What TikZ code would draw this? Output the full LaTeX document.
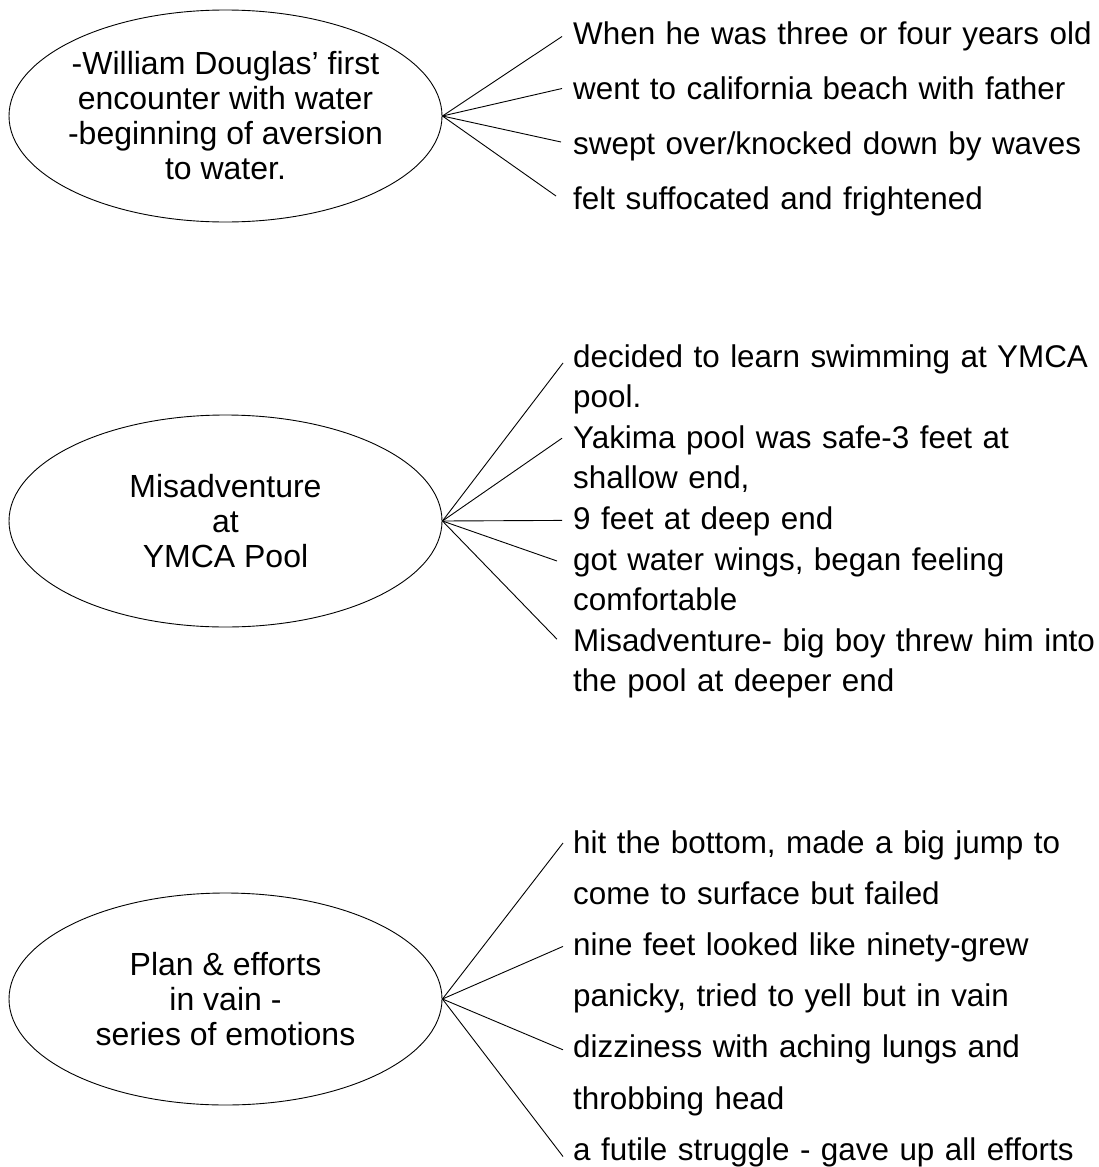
\documentclass[tikz,border=0pt]{standalone}
\usepackage{fontspec}
\setmainfont{Liberation Sans}
\usepackage{tikz}
\usetikzlibrary{shapes.geometric}

\begin{document}
\begin{tikzpicture}[x=1pt,y=-1pt,
    bubble/.style={draw, ellipse, line width=0.9pt, minimum width=433pt, minimum height=212pt,
      inner xsep=-10pt, align=center, font=\fontsize{32}{35}\selectfont},
    item/.style={anchor=base west, text width=540pt, align=left},
    spoke/.style={line width=0.9pt}]
    \tikzstyle{every node}+=[inner sep=0pt]
    \useasboundingbox (0,0) rectangle (1099,1167);
    \node[bubble] (b1) at (225.5,116) {-William Douglas’ first\\encounter with water\\-beginning of aversion\\to water.};
    \node[bubble] (b2) at (225.5,521) {Misadventure\\at\\YMCA Pool};
    \node[bubble] (b3) at (225.5,999) {Plan \& efforts\\in vain -\\series of emotions};
    \node[item, font=\fontsize{31.4}{54.8}\selectfont] (t1a) at (573,44.5) {\makebox[514pt][s]{When he was three or four years old}};
    \node[item, font=\fontsize{31.4}{54.8}\selectfont] (t1b) at (573,99.5) {\makebox[514pt][s]{went to california beach with father}};
    \node[item, font=\fontsize{31.4}{54.8}\selectfont] (t1c) at (573,154) {\makebox[514pt][s]{swept over/knocked down by waves}};
    \node[item, font=\fontsize{31.4}{54.8}\selectfont] (t1d) at (573,209) {felt suffocated and frightened};
    \node[item, font=\fontsize{31.4}{40.6}\selectfont] (t2a) at (573,367) {decided to learn swimming at YMCA\\pool.};
    \node[item, font=\fontsize{31.4}{40.6}\selectfont] (t2b) at (573,448.2) {Yakima pool was safe-3 feet at\\shallow end,};
    \node[item, font=\fontsize{31.4}{40.6}\selectfont] (t2c) at (573,529.4) {9 feet at deep end};
    \node[item, font=\fontsize{31.4}{40.6}\selectfont] (t2d) at (573,570) {got water wings, began feeling\\comfortable};
    \node[item, font=\fontsize{31.4}{40.6}\selectfont] (t2e) at (573,651.2) {Misadventure- big boy threw him into\\the pool at deeper end};
    \node[item, font=\fontsize{31.4}{51.2}\selectfont] (t3a) at (573,853) {hit the bottom, made a big jump to\\come to surface but failed};
    \node[item, font=\fontsize{31.4}{51.2}\selectfont] (t3b) at (573,955.4) {nine feet looked like ninety-grew\\panicky, tried to yell but in vain};
    \node[item, font=\fontsize{31.4}{51.2}\selectfont] (t3c) at (573,1057.8) {dizziness with aching lungs and\\throbbing head};
    \node[item, font=\fontsize{31.4}{51.2}\selectfont] (t3d) at (573,1160.5) {a futile struggle - gave up all efforts};
    \draw[spoke] (b1.east) -- ([xshift=-11pt,yshift=8pt]t1a.base west);
    \draw[spoke] (b1.east) -- ([xshift=-11pt,yshift=11pt]t1b.base west);
    \draw[spoke] (b1.east) -- ([xshift=-12pt,yshift=12pt]t1c.base west);
    \draw[spoke] (b1.east) -- ([xshift=-17pt,yshift=13pt]t1d.base west);
    \draw[spoke] (b2.east) -- ([xshift=-10pt,yshift=4pt]t2a.base west);
    \draw[spoke] (b2.east) -- ([xshift=-11pt,yshift=10pt]t2b.base west);
    \draw[spoke] (b2.east) -- ([xshift=-11pt,yshift=9pt]t2c.base west);
    \draw[spoke] (b2.east) -- ([xshift=-16pt,yshift=9pt]t2d.base west);
    \draw[spoke] (b2.east) -- ([xshift=-16pt,yshift=12pt]t2e.base west);
    \draw[spoke] (b3.east) -- ([xshift=-10pt,yshift=10pt]t3a.base west);
    \draw[spoke] (b3.east) -- ([xshift=-10pt,yshift=9pt]t3b.base west);
    \draw[spoke] (b3.east) -- ([xshift=-10pt,yshift=8pt]t3c.base west);
    \draw[spoke] (b3.east) -- ([xshift=-10pt,yshift=4pt]t3d.base west);
\end{tikzpicture}
\end{document}
